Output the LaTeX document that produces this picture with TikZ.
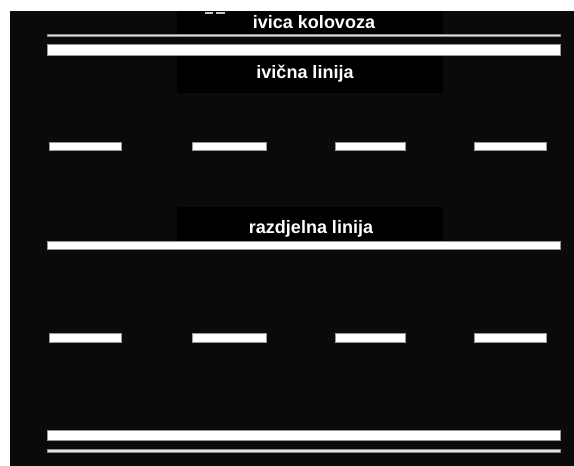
\documentclass[tikz,border=0pt]{standalone}
\usepackage{fontspec}
\setmainfont{Liberation Sans}
\tikzset{
  road/.style={fill={rgb,255:red,10;green,10;blue,10}},
  labelbox/.style={fill=black},
  paint/.style={fill=white, draw={rgb,255:red,150;green,150;blue,150}, line width=0.6pt},
  thinpaint/.style={fill={rgb,255:red,225;green,225;blue,225}, draw={rgb,255:red,140;green,140;blue,140}, line width=0.5pt},
  marktext/.style={text=white, font=\bfseries\fontsize{18}{20}\selectfont, inner sep=0pt, anchor=base}
}
\begin{document}
\begin{tikzpicture}[x=1pt,y=-1pt]
\useasboundingbox (0,0) rectangle (574,466);
\fill[white] (0,0) rectangle (574,466);
% road surface
\fill[road] (10,11) rectangle (574,466);
% label boxes
\fill[labelbox] (177,11) rectangle (443,35);
\fill[labelbox] (177,56) rectangle (443,93);
\fill[labelbox] (177,207) rectangle (443,241);
% tiny grey marks at top
\fill[gray!45] (204.5,12) rectangle (213,14);
\fill[gray!45] (216,12) rectangle (225,14);
% top edge: thin line and thick line
\filldraw[thinpaint] (47,33.8) rectangle (560,36.2);
\filldraw[paint] (47,44.5) rectangle (560,55.5);
% lane dashes (upper)
\foreach \a/\b in {49/121, 192.5/266, 335.5/405, 474/546.5}
  \filldraw[paint] (\a,142.3) rectangle (\b,150.7);
% dividing line
\filldraw[paint] (47,241) rectangle (560,249.5);
% lane dashes (lower)
\foreach \a/\b in {49/121, 192.5/266, 335.5/405, 474/546.5}
  \filldraw[paint] (\a,333.5) rectangle (\b,342);
% bottom edge: thick and thin
\filldraw[paint] (47,430.5) rectangle (560,440.5);
\filldraw[thinpaint] (47,449.3) rectangle (560,452.3);
% labels
\node[marktext] (kol) at (314,28.5) {ivica kolovoza};
\node[marktext] (ivl) at (305,78) {ivična linija};
\node[marktext] (raz) at (311,233) {razdjelna linija};
\end{tikzpicture}
\end{document}
